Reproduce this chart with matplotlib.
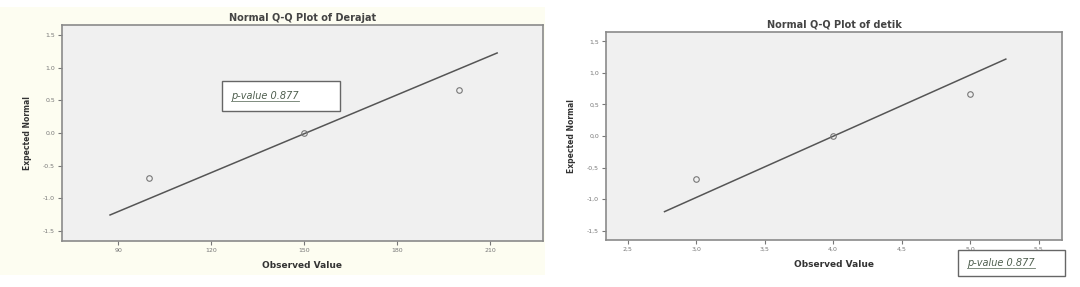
import matplotlib
matplotlib.use('Agg')
import matplotlib.pyplot as plt
from matplotlib.patches import Rectangle
from matplotlib.lines import Line2D

# left panel: Derajat
derajat_obs = [100, 150, 200]
derajat_exp = [-0.69, 0.0, 0.66]
derajat_line_x = [87.4, 212.3]
derajat_line_y = [-1.26, 1.23]
derajat_xticks = [90, 120, 150, 180, 210]
derajat_yticks = [1.5, 1.0, 0.5, 0.0, -0.5, -1.0, -1.5]

# right panel: detik
detik_obs = [3.0, 4.0, 5.0]
detik_exp = [-0.69, 0.0, 0.66]
detik_line_x = [2.77, 5.26]
detik_line_y = [-1.2, 1.22]
detik_xticks = [2.5, 3.0, 3.5, 4.0, 4.5, 5.0, 5.5]
detik_yticks = [1.5, 1.0, 0.5, 0.0, -0.5, -1.0, -1.5]

pvalue_text = 'p-value 0.877'

W, H = 1080, 287
fig = plt.figure(figsize=(W / 100, H / 100), dpi=100)
fig.patch.set_facecolor('white')

def fx(px):
    return px / W

def fy(py):
    return 1 - py / H

# pale yellow backdrop behind left panel
fig.patches.append(Rectangle((fx(0), fy(275)), fx(545), (268) / H,
                             transform=fig.transFigure, facecolor='#fdfdf1',
                             edgecolor='none', zorder=-5))

def qq_panel(rect, obs, exp, lx, ly, xt, yt, xlim, ylim, title, xfmt, yfmt):
    ax = fig.add_axes(rect)
    ax.set_zorder(1)
    ax.set_facecolor('#f0f0f0')
    ax.plot(lx, ly, color='#555555', lw=1.1)
    ax.plot(obs, exp, 'o', mfc='none', mec='#777777', ms=4, mew=0.8)
    ax.set_xlim(xlim)
    ax.set_ylim(ylim)
    ax.set_xticks(xt)
    ax.set_xticklabels([xfmt(v) for v in xt])
    ax.set_yticks(yt)
    ax.set_yticklabels([yfmt(v) for v in yt])
    ax.tick_params(labelsize=4.5, colors='#777777', length=3, width=0.8, pad=2)
    for s in ax.spines.values():
        s.set_color('#8a8a8a')
        s.set_linewidth(1.2)
    ax.set_title(title, fontsize=7, fontweight='bold', color='#444444', pad=3)
    ax.set_xlabel('Observed Value', fontsize=6.5, fontweight='bold', color='#333333', labelpad=6)
    ax.set_ylabel('Expected Normal', fontsize=5.5, fontweight='bold', color='#333333', labelpad=8)
    return ax

ax1 = qq_panel([fx(62), fy(241), fx(543 - 62), (241 - 25) / H],
               derajat_obs, derajat_exp, derajat_line_x, derajat_line_y,
               derajat_xticks, derajat_yticks, (71.9, 227.1), (-1.66, 1.66),
               'Normal Q-Q Plot of Derajat',
               lambda v: '%d' % v, lambda v: '%.1f' % v)

ax2 = qq_panel([fx(606), fy(240), fx(1062 - 606), (240 - 32) / H],
               detik_obs, detik_exp, detik_line_x, detik_line_y,
               detik_xticks, detik_yticks, (2.343, 5.67), (-1.65, 1.65),
               'Normal Q-Q Plot of detik',
               lambda v: ('%.1f' % v).replace('.', ','),
               lambda v: ('%.1f' % v).replace('.', ','))

renderer = fig.canvas.get_renderer()

def pbox(x0, y0, x1, y1):
    fig.add_artist(Rectangle((fx(x0), fy(y1)), fx(x1 - x0), (y1 - y0) / H,
                             transform=fig.transFigure, facecolor='white',
                             edgecolor='#666666', lw=1.0, zorder=5))
    ty = (y0 + y1) / 2
    t = fig.text(fx(x0 + 9), fy(ty), pvalue_text, fontsize=7, style='italic',
                 color='#4f5f4f', va='center', ha='left', zorder=6)
    bb = t.get_window_extent(renderer)
    fig.add_artist(Line2D([fx(x0 + 9), fx(x0 + 9 + bb.width)], [fy(ty + 5), fy(ty + 5)],
                          transform=fig.transFigure, color='#6a7a6a', lw=0.6, zorder=6))

pbox(222, 81, 340, 111)
pbox(958, 250, 1065, 276)

fig.savefig('out.png', dpi=100)
